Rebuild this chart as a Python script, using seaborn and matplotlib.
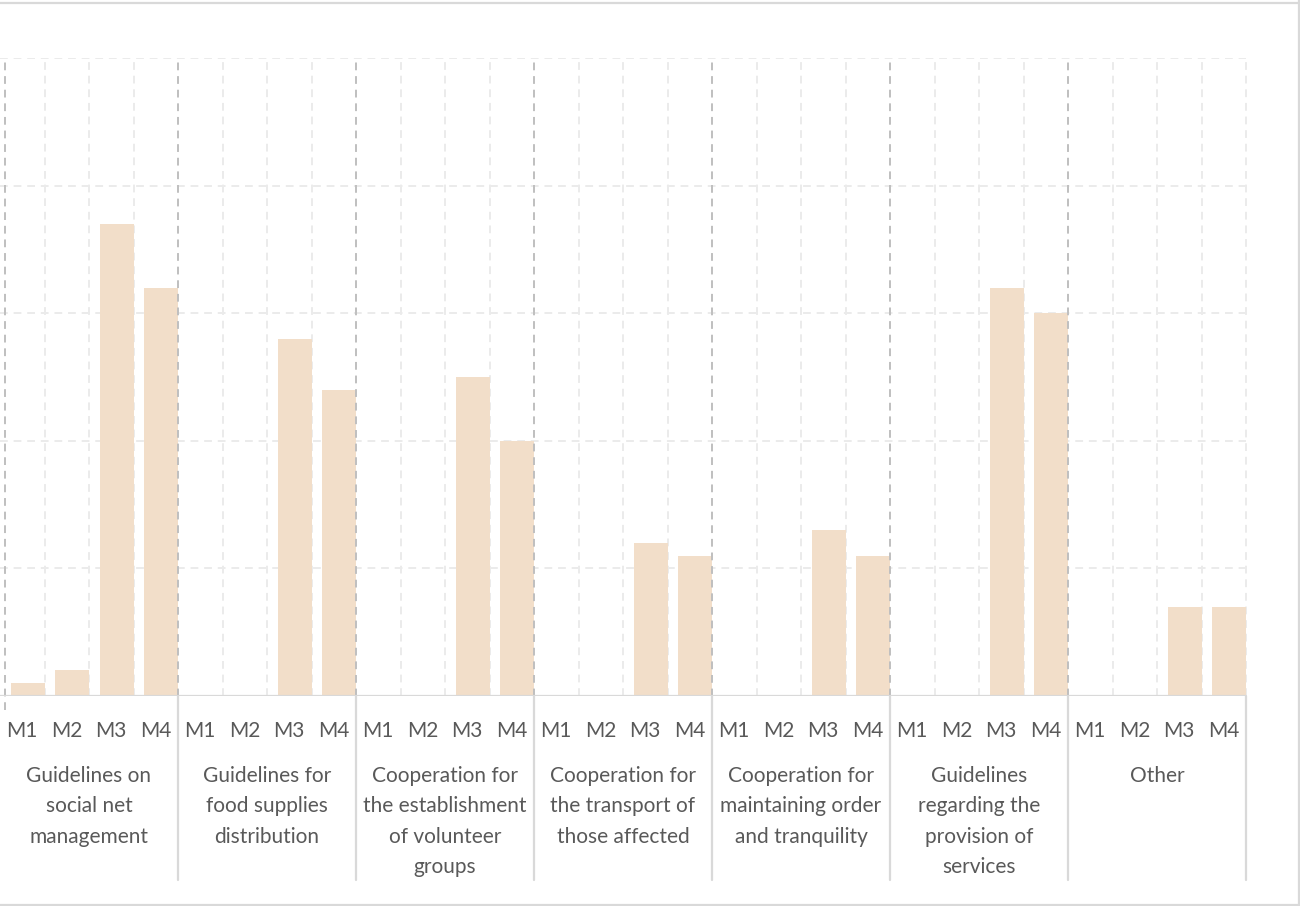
import matplotlib
matplotlib.use("Agg")
import matplotlib.pyplot as plt
from matplotlib.lines import Line2D
from matplotlib.transforms import blended_transform_factory, ScaledTranslation
import numpy as np
import pandas as pd
import seaborn as sns

# Measures per month (M1..M4) for each type of action
months = ["M1", "M2", "M3", "M4"]
groups = [
    "Guidelines on\nsocial net\nmanagement",
    "Guidelines for\nfood supplies\ndistribution",
    "Cooperation for\nthe establishment\nof volunteer\ngroups",
    "Cooperation for\nthe transport of\nthose affected",
    "Cooperation for\nmaintaining order\nand tranquility",
    "Guidelines\nregarding the\nprovision of\nservices",
    "Other",
]
social_net = [1, 2, 37, 32]
food_supplies = [0, 0, 28, 24]
volunteer_groups = [0, 0, 25, 20]
transport = [0, 0, 12, 11]
order_tranquility = [0, 0, 13, 11]
services = [0, 0, 32, 30]
other = [0, 0, 7, 7]
series = [social_net, food_supplies, volunteer_groups, transport,
          order_tranquility, services, other]

rows = []
for gi, (g, vals) in enumerate(zip(groups, series)):
    for m, v in zip(months, vals):
        rows.append({"slot": f"{gi}|{m}", "group": g, "month": m, "value": v})
df = pd.DataFrame(rows)

BAR = "#F2DEC9"
TEXT = "#595959"
LIGHT = "#EBEBEB"
DARK = "#BFBFBF"
SEP = "#D9D9D9"

sns.set_theme(style="white")
plt.rcParams["font.family"] = ["Lato", "DejaVu Sans"]

W, H = 1300, 906
fig = plt.figure(figsize=(W / 100, H / 100), dpi=100)
ax = fig.add_axes([0 / W, (H - 696) / H, 1246 / W, (696 - 58) / H])

sns.barplot(data=df, x="slot", y="value", order=list(df["slot"]),
            color=BAR, saturation=1, width=0.76, ax=ax, zorder=2)
for p in ax.patches:
    p.set_x(p.get_x() + 0.12)
    p.set_linewidth(0)

n = len(df)
ax.set_xlim(-0.5, n - 0.5)
ax.set_ylim(0, 50)

# horizontal gridlines
for v in [10, 20, 30, 40, 50]:
    ax.axhline(v, color=LIGHT, lw=1.4, ls=(0, (4, 3)), zorder=0)

# vertical gridlines: light between months, darker between groups
bt = blended_transform_factory(ax.transData, ax.transAxes)
for i in range(n + 1):
    x = i - 0.5
    if i % 4 == 0 and i < n:
        xx = x + 0.11 if i == 0 else x
        ax.plot([xx, xx], [-0.022, 1.0], transform=bt, color=DARK, lw=1.4,
                ls=(0, (4, 3)), zorder=3, clip_on=False)
    else:
        ax.plot([x, x], [0, 1.0], transform=bt, color=LIGHT, lw=1.4,
                ls=(0, (4, 3)), zorder=1, clip_on=False)

# category axis line and group separators
ax.axhline(0, color=SEP, lw=1.6, zorder=4)
for k in range(1, len(groups) + 1):
    x = 4 * k - 0.5
    ax.plot([x, x], [0, -184 / 638], transform=bt, color=SEP, lw=1.6,
            zorder=4, clip_on=False)

ax.set_xticks(range(n))
ax.set_xticklabels(list(df["month"]))
ax.tick_params(axis="x", length=0, pad=18, labelsize=15, labelcolor=TEXT)
ax.set_yticks([])
ax.set_xlabel("")
ax.set_ylabel("")
for s in ax.spines.values():
    s.set_visible(False)

# group labels
off = ScaledTranslation(0, -0.70, fig.dpi_scale_trans)
for gi, g in enumerate(groups):
    ax.text(4 * gi + 1.5, 0, g, transform=bt + off, ha="center", va="top",
            fontsize=15, color=TEXT, linespacing=1.65)

# chart border
fig.add_artist(Line2D([0, 1], [1 - 3 / H, 1 - 3 / H], transform=fig.transFigure,
                      color=SEP, lw=1.6))
fig.add_artist(Line2D([0, 1], [1.5 / H, 1.5 / H], transform=fig.transFigure,
                      color=SEP, lw=1.6))
fig.add_artist(Line2D([1 - 1.5 / W, 1 - 1.5 / W], [0, 1], transform=fig.transFigure,
                      color=SEP, lw=1.6))

fig.savefig("out.png", dpi=100)
